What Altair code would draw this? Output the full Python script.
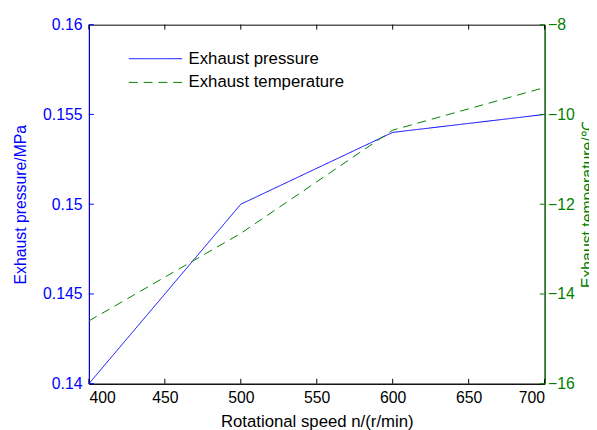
import altair as alt
import pandas as pd

# ---- data ----
speed = [400, 500, 600, 700]
pressure = [0.140, 0.150, 0.154, 0.155]
temperature = [-14.6, -12.65, -10.35, -9.4]
series_names = ["Exhaust pressure", "Exhaust temperature"]
x_ticks = [400, 450, 500, 550, 600, 650, 700]
p_ticks = [0.14, 0.145, 0.15, 0.155, 0.16]
t_ticks = [-16, -14, -12, -10, -8]

W, H = 462, 364
BLUE = "#0000ff"
GREEN = "#008000"
FONT = "Liberation Sans"

df = pd.DataFrame({
    "speed": speed * 2,
    "value": pressure + temperature,
    "series": [series_names[0]] * len(speed) + [series_names[1]] * len(speed),
})
xt = pd.DataFrame({"speed": x_ticks})
pt = pd.DataFrame({"value": p_ticks})
tt = pd.DataFrame({"value": t_ticks})

x_enc = alt.X(
    "speed:Q",
    scale=alt.Scale(domain=[400, 700], nice=False),
    axis=alt.Axis(
        values=x_ticks, title="Rotational speed n/(r/min)", ticks=False, grid=False,
        labelColor="black", domainColor="black", titleColor="black",
        labelFontSize=16, titleFontSize=17, labelPadding=6, titlePadding=8,
        titleFontWeight="normal", labelFont=FONT, titleFont=FONT,
    ),
)

left_axis = alt.Axis(
    values=p_ticks, format=".3~f", title="Exhaust pressure/MPa", ticks=False, grid=False,
    labelColor=BLUE, domainColor=BLUE, titleColor=BLUE,
    labelFontSize=16, titleFontSize=16, labelPadding=7, titlePadding=14,
    titleFontWeight="normal", labelFont=FONT, titleFont=FONT,
)
right_axis = alt.Axis(
    values=t_ticks, title="Exhaust temperature/℃", orient="right", ticks=False, grid=False,
    labelColor=GREEN, domainColor=GREEN, titleColor=GREEN,
    labelFontSize=16, titleFontSize=16, labelPadding=3, titlePadding=5,
    titleAngle=270, titleBaseline="top",
    titleFontWeight="normal", labelFont=FONT, titleFont=FONT,
)

y_p = alt.Y("value:Q", scale=alt.Scale(domain=[0.14, 0.16], nice=False, zero=False), axis=left_axis)
y_t = alt.Y("value:Q", scale=alt.Scale(domain=[-16, -8], nice=False, zero=False), axis=right_axis)

legend = alt.Legend(
    title=None, orient="none", legendX=58, legendY=25, padding=0,
    symbolType="M-3,0H3", symbolSize=324, symbolStrokeWidth=1,
    labelOffset=24, labelFontSize=17, labelFont=FONT, labelColor="black",
    rowPadding=6,
)
color = alt.Color("series:N", scale=alt.Scale(domain=series_names, range=[BLUE, GREEN]), legend=legend)
dash = alt.StrokeDash("series:N", scale=alt.Scale(domain=series_names, range=[[1, 0], [9, 6]]), legend=legend)

base = alt.Chart(df)

p_line = base.transform_filter(alt.datum.series == series_names[0]).mark_line(strokeWidth=1).encode(
    x=x_enc, y=y_p, color=color, strokeDash=dash
)
t_line = base.transform_filter(alt.datum.series == series_names[1]).mark_line(strokeWidth=1).encode(
    x=x_enc, y=y_t, color=color, strokeDash=dash
)

left_ticks = alt.Chart(pt).mark_rule(color=BLUE, strokeWidth=1).encode(
    y=y_p, x=alt.value(0), x2=alt.value(5)
)
right_ticks = alt.Chart(tt).mark_rule(color=GREEN, strokeWidth=1).encode(
    y=y_t, x=alt.value(W - 5), x2=alt.value(W)
)
top_ticks = alt.Chart(xt).mark_rule(color="black", strokeWidth=1).encode(
    x=x_enc, y=alt.value(0), y2=alt.value(5)
)
bottom_ticks = alt.Chart(xt).mark_rule(color="black", strokeWidth=1).encode(
    x=x_enc, y=alt.value(H - 5), y2=alt.value(H)
)

left = alt.layer(top_ticks, bottom_ticks, left_ticks, p_line)
right = alt.layer(right_ticks, t_line)

chart = alt.layer(left, right).resolve_scale(y="independent").properties(
    width=W, height=H,
    autosize=alt.AutoSizeParams(type="none"),
    padding={"left": 82, "top": 14, "right": 45, "bottom": 44},
    background="white",
).configure_view(stroke="black", strokeWidth=1)

chart.save("out.html", embed_options={"renderer": "svg", "actions": False})
